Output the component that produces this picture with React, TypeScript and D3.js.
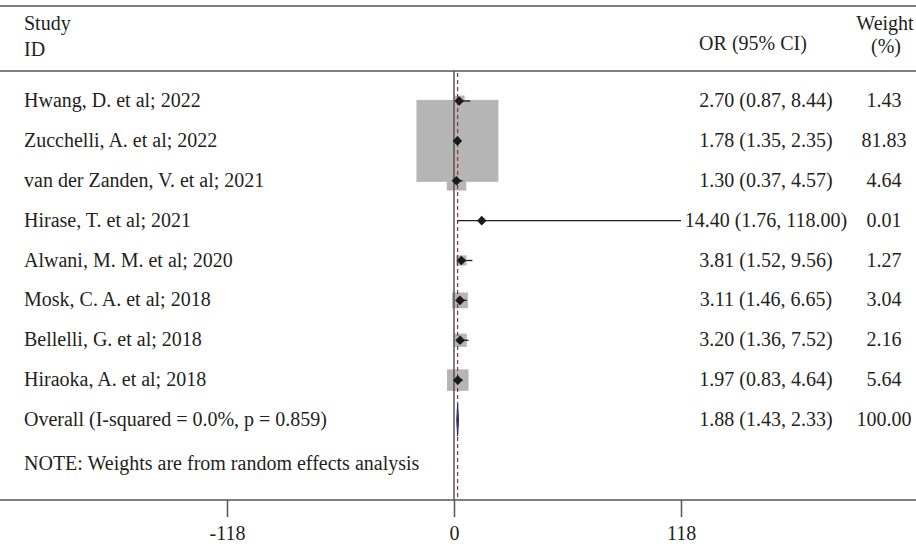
import { useEffect, useRef } from 'react'
import * as d3 from 'd3'

// Study rows
const studies = [
  'Hwang, D. et al; 2022',
  'Zucchelli, A. et al; 2022',
  'van der Zanden, V. et al; 2021',
  'Hirase, T. et al; 2021',
  'Alwani, M. M. et al; 2020',
  'Mosk, C. A. et al; 2018',
  'Bellelli, G. et al; 2018',
  'Hiraoka, A. et al; 2018',
]
const orValues = [2.7, 1.78, 1.3, 14.4, 3.81, 3.11, 3.2, 1.97]
const lowerCI = [0.87, 1.35, 0.37, 1.76, 1.52, 1.46, 1.36, 0.83]
const upperCI = [8.44, 2.35, 4.57, 118.0, 9.56, 6.65, 7.52, 4.64]
const weights = [1.43, 81.83, 4.64, 0.01, 1.27, 3.04, 2.16, 5.64]

const overallLabel = 'Overall (I-squared = 0.0%, p = 0.859)'
const overall = { or: 1.88, lo: 1.43, hi: 2.33, weight: 100.0 }
const note = 'NOTE: Weights are from random effects analysis'

const axisTicks = [-118, 0, 118]

const TEXT = '#231f20'
const LINE = '#555555'
const FONT = '"Liberation Serif", "Times New Roman", serif'

export default function App() {
  const svgRef = useRef<SVGSVGElement>(null)

  useEffect(() => {
    if (!svgRef.current) return
    const width = 916
    const height = 553

    const svg = d3.select(svgRef.current)
    svg.selectAll('*').remove()
    svg.attr('width', width).attr('height', height)

    const xScale = d3.scaleLinear().domain([-118, 118]).range([227, 681])
    const yRow = d3.scaleLinear().domain([0, 8]).range([101, 420])
    const boxSize = d3.scaleSqrt().domain([0, 100]).range([0, 90.6])

    const plotTop = 71
    const axisY = 500

    // horizontal rules
    ;[6, plotTop].forEach(y => {
      svg.append('line')
        .attr('x1', 0).attr('x2', width)
        .attr('y1', y).attr('y2', y)
        .attr('stroke', LINE).attr('stroke-width', 1.5)
    })

    const text = (x: number, y: number, s: string, anchor = 'start') =>
      svg.append('text')
        .attr('x', x).attr('y', y)
        .attr('text-anchor', anchor)
        .attr('fill', TEXT)
        .attr('font-family', FONT)
        .attr('font-size', 20)
        .text(s)

    // header
    text(24, 30, 'Study')
    text(24, 56, 'ID')
    text(753, 50, 'OR (95% CI)', 'middle')
    text(885, 30, 'Weight', 'middle')
    text(886, 53, '(%)', 'middle')

    // weight boxes first (drawn under lines)
    svg.selectAll('.box')
      .data(studies)
      .enter()
      .append('rect')
      .attr('class', 'box')
      .attr('x', (_, i) => xScale(orValues[i]) - boxSize(weights[i]) / 2)
      .attr('y', (_, i) => yRow(i) - boxSize(weights[i]) / 2)
      .attr('width', (_, i) => boxSize(weights[i]))
      .attr('height', (_, i) => boxSize(weights[i]))
      .attr('fill', '#b5b5b5')

    // null line
    svg.append('line')
      .attr('x1', xScale(0)).attr('x2', xScale(0))
      .attr('y1', plotTop).attr('y2', axisY)
      .attr('stroke', LINE).attr('stroke-width', 1.5)

    // overall effect line
    svg.append('line')
      .attr('x1', xScale(overall.or)).attr('x2', xScale(overall.or))
      .attr('y1', plotTop + 2).attr('y2', axisY)
      .attr('stroke', '#a3263b').attr('stroke-width', 1.2)
      .attr('stroke-dasharray', '4,3')

    // CI lines
    svg.selectAll('.ci')
      .data(studies)
      .enter()
      .append('line')
      .attr('class', 'ci')
      .attr('x1', (_, i) => xScale(lowerCI[i]))
      .attr('x2', (_, i) => xScale(upperCI[i]))
      .attr('y1', (_, i) => yRow(i))
      .attr('y2', (_, i) => yRow(i))
      .attr('stroke', TEXT)
      .attr('stroke-width', 1.3)

    // point markers
    const d = 4.8
    svg.selectAll('.pt')
      .data(studies)
      .enter()
      .append('path')
      .attr('class', 'pt')
      .attr('d', (_, i) => {
        const cx = xScale(orValues[i])
        const cy = yRow(i)
        return `M${cx - d},${cy}L${cx},${cy - d}L${cx + d},${cy}L${cx},${cy + d}Z`
      })
      .attr('fill', '#1a1a1a')

    // overall diamond
    const oy = yRow(8)
    svg.append('path')
      .attr('d', `M${xScale(overall.lo)},${oy}L${xScale(overall.or)},${oy - 16}L${xScale(overall.hi)},${oy}L${xScale(overall.or)},${oy + 16}Z`)
      .attr('fill', '#2a2a78')
      .attr('stroke', '#2a2a78')
      .attr('stroke-width', 1)

    // row texts
    studies.forEach((s, i) => {
      const y = yRow(i) + 6
      text(24, y, s)
      text(766, y, `${orValues[i].toFixed(2)} (${lowerCI[i].toFixed(2)}, ${upperCI[i].toFixed(2)})`, 'middle')
      text(884, y, weights[i].toFixed(2), 'middle')
    })
    text(24, oy + 6, overallLabel)
    text(766, oy + 6, `${overall.or.toFixed(2)} (${overall.lo.toFixed(2)}, ${overall.hi.toFixed(2)})`, 'middle')
    text(884, oy + 6, overall.weight.toFixed(2), 'middle')
    text(24, 470, note)

    // bottom axis
    svg.append('line')
      .attr('x1', 0).attr('x2', width)
      .attr('y1', axisY).attr('y2', axisY)
      .attr('stroke', LINE).attr('stroke-width', 1.5)

    const axis = svg.append('g').attr('transform', `translate(0,${axisY})`)
    axis.call(
      d3.axisBottom(xScale)
        .tickValues(axisTicks)
        .tickSize(17)
        .tickFormat(v => String(v))
    )
    axis.select('.domain').remove()
    axis.selectAll('.tick line').attr('stroke', LINE).attr('stroke-width', 1.5)
    axis.selectAll('.tick text')
      .attr('fill', TEXT)
      .attr('font-family', FONT)
      .attr('font-size', 20)
      .attr('dy', 0)
      .attr('y', 40)
  }, [])

  return (
    <svg ref={svgRef} style={{ position: 'absolute', left: 0, top: 0, background: '#fff' }} />
  )
}
